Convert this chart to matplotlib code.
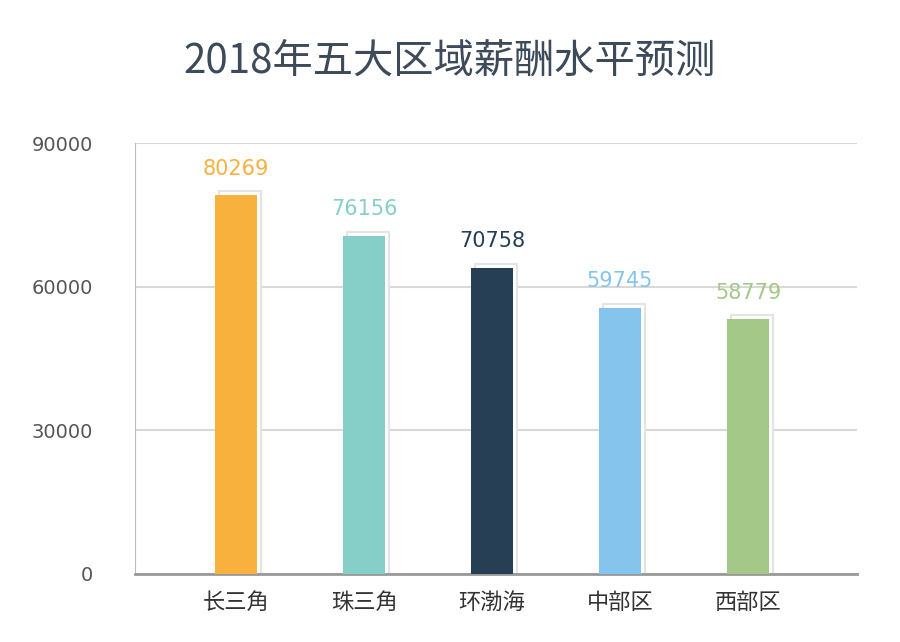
import matplotlib
matplotlib.use("Agg")
import matplotlib.pyplot as plt
from matplotlib.patches import Rectangle
from matplotlib import font_manager as fm

cjk = None
for f in fm.findSystemFonts():
    n = f.lower()
    if 'cjk' in n and ('sc' in n or 'ttc' in n or 'otf' in n):
        cjk = f
        if 'sc' in n:
            break
if cjk:
    fm.fontManager.addfont(cjk)
    cjk_name = fm.FontProperties(fname=cjk).get_name()
else:
    cjk_name = 'Noto Sans CJK SC'
plt.rcParams['font.family'] = 'sans-serif'
plt.rcParams['font.sans-serif'] = [cjk_name, 'Noto Sans CJK SC', 'DejaVu Sans']

categories = ["长三角", "珠三角", "环渤海", "中部区", "西部区"]
bar_values = [79100, 70600, 63900, 55600, 53200]
label_values = [80269, 76156, 70758, 59745, 58779]
colors = ["#f8b13d", "#86cfc9", "#263f55", "#84c4ed", "#a3c887"]
yticks = [0, 30000, 60000, 90000]

fig = plt.figure(figsize=(9, 6.42), dpi=100)
ax = fig.add_axes([0.15, 0.106, 0.802, 0.671])
x = list(range(len(categories)))
w = 0.33
for xi, v, c, lab in zip(x, bar_values, colors, label_values):
    ax.add_patch(Rectangle((xi - w/2 + 0.03, 0), w, v + 900, facecolor="white",
                           edgecolor="#e4e4e4", lw=1.5, zorder=2))
    ax.bar(xi, v, width=w, color=c, zorder=3)
    ax.text(xi, v + 3500, str(lab), ha='center', va='bottom', color=c,
            fontsize=15, family='DejaVu Sans', zorder=4)
ax.set_xlim(-0.79, 4.85)
ax.set_ylim(0, 90000)
ax.set_yticks(yticks)
ax.set_yticklabels([str(t) for t in yticks], family='DejaVu Sans')
ax.set_xticks(x)
ax.set_xticklabels(categories)
ax.tick_params(axis='y', length=0, labelsize=14, labelcolor='#555555', pad=30)
ax.tick_params(axis='x', length=0, labelsize=16, labelcolor='#333333', pad=12)
ax.grid(axis='y', color='#d8d8d8', lw=1.5, zorder=0)
for s in ['top', 'right']:
    ax.spines[s].set_visible(False)
ax.spines['left'].set_color('#bbbbbb')
ax.spines['bottom'].set_color('#999999')
ax.spines['bottom'].set_linewidth(2)
fig.text(0.5, 0.905, "2018年五大区域薪酬水平预测", ha='center', va='center',
         fontsize=29, color='#3c4a5a')
fig.savefig("out.png", dpi=100)
